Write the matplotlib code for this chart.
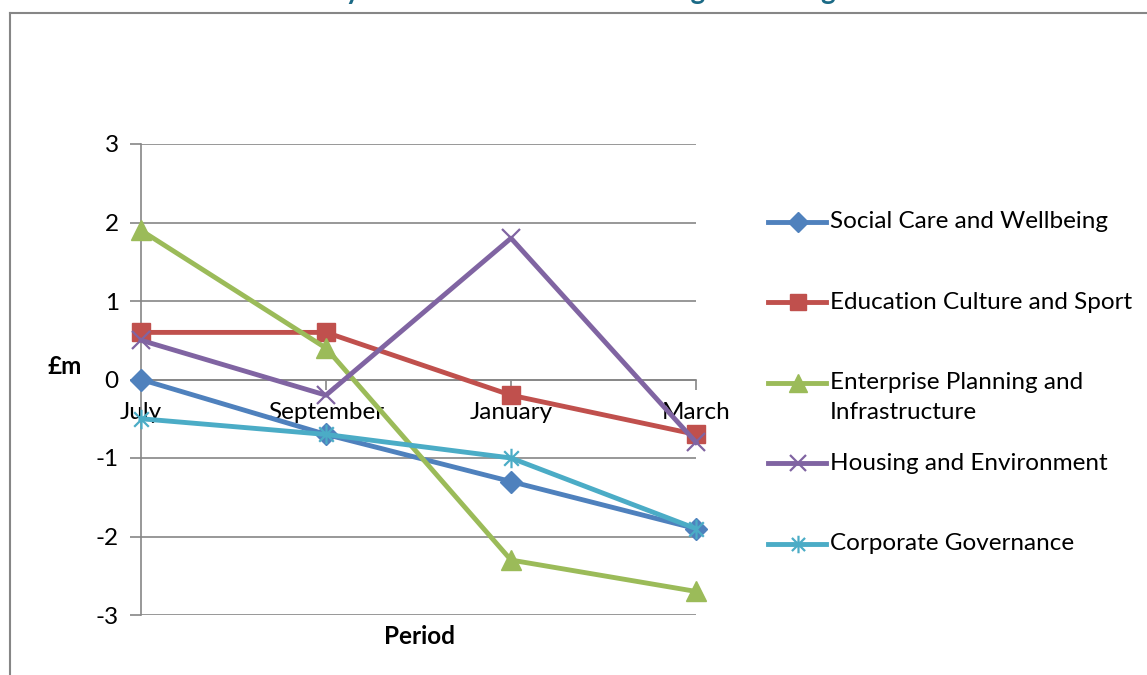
import matplotlib
matplotlib.use("Agg")
import matplotlib.pyplot as plt
from matplotlib.lines import Line2D
from matplotlib.path import Path

plt.rcParams['font.family'] = ['Lato', 'DejaVu Sans']

periods = ["July", "September", "January", "March"]
series_names = [
    "Social Care and Wellbeing",
    "Education Culture and Sport",
    "Enterprise Planning and\nInfrastructure",
    "Housing and Environment",
    "Corporate Governance",
]
social_care = [0.0, -0.7, -1.3, -1.9]
education = [0.6, 0.6, -0.2, -0.7]
enterprise = [1.9, 0.4, -2.3, -2.7]
housing = [0.5, -0.2, 1.8, -0.8]
corporate = [-0.5, -0.7, -1.0, -1.9]
y_ticks = [-3, -2, -1, 0, 1, 2, 3]

# excel style star: vertical bar plus an X
star = Path([(0, -1), (0, 1), (-0.75, -0.75), (0.75, 0.75), (-0.75, 0.75), (0.75, -0.75)],
            [Path.MOVETO, Path.LINETO, Path.MOVETO, Path.LINETO, Path.MOVETO, Path.LINETO])

styles = [
    dict(color="#4F81BD", marker="D", ms=11),
    dict(color="#C0504D", marker="s", ms=13),
    dict(color="#9BBB59", marker="^", ms=14),
    dict(color="#8064A2", marker="x", ms=13, mew=1.6),
    dict(color="#4BACC6", marker=star, ms=14, mew=1.6),
]
all_values = [social_care, education, enterprise, housing, corporate]

W, H = 1147, 675
FS = 17.5
fig = plt.figure(figsize=(W / 100, H / 100), dpi=100)

def fx(px):
    return px / W

def fy(py):
    return 1 - py / H

# chart area border (runs off the right and bottom edges)
fig.add_artist(Line2D([fx(10), fx(10)], [fy(13), fy(700)], color="#868686", lw=1.5))
fig.add_artist(Line2D([fx(10), fx(1160)], [fy(13), fy(13)], color="#868686", lw=1.5))

# title, mostly cut off at the top as in the original
fig.text(fx(553), fy(-1), "Summary of Directorate Variances against Budget",
         ha="center", va="baseline", fontsize=20, fontweight="bold", color="#1B6A86")

ax = fig.add_axes([fx(141), fy(615), fx(696) - fx(141), fy(144) - fy(615)])
x = list(range(len(periods)))
for vals, st in zip(all_values, styles):
    ax.plot(x, vals, lw=3.5, zorder=3, clip_on=False, **st)

ax.set_xlim(0, 3)
ax.set_ylim(-3, 3)
ax.set_yticks(y_ticks)
ax.set_yticklabels([str(t) for t in y_ticks], fontsize=FS)
ax.yaxis.grid(True, color="#868686", lw=1.2)
ax.tick_params(axis="y", length=8, width=1.2, color="#868686", pad=8)
for side in ["top", "right"]:
    ax.spines[side].set_visible(False)
ax.spines["left"].set_color("#868686")
ax.spines["left"].set_linewidth(1.2)
ax.spines["bottom"].set_position(("data", 0))
ax.spines["bottom"].set_color("#868686")
ax.spines["bottom"].set_linewidth(1.2)
ax.set_xticks(x)
ax.set_xticklabels(periods, fontsize=FS)
ax.tick_params(axis="x", direction="out", length=7, width=1.2, color="#868686", pad=9)
for lab in ax.get_xticklabels():
    lab.set_zorder(5)
ax.set_axisbelow(True)

fig.text(fx(65), fy(367), "£m", ha="center", va="center", fontsize=FS, fontweight="bold")
fig.text(fx(419), fy(636), "Period", ha="center", va="center", fontsize=FS, fontweight="bold")

# legend drawn by hand so the two-line entry keeps the even pitch
legend_y = [222, 302, 383, 463, 544]
for name, st, ly in zip(series_names, styles, legend_y):
    fig.add_artist(Line2D([fx(768), fx(826)], [fy(ly), fy(ly)], color=st["color"], lw=3.5))
    fig.add_artist(Line2D([fx(798)], [fy(ly)], color=st["color"], marker=st["marker"],
                          ms=st["ms"] * 0.9, mew=st.get("mew", 1)))
    if "\n" in name:
        fig.text(fx(830), fy(ly - 11), name, ha="left", va="top", fontsize=FS, linespacing=1.55)
    else:
        fig.text(fx(830), fy(ly), name, ha="left", va="center", fontsize=FS)

fig.savefig("out.png", dpi=100)
